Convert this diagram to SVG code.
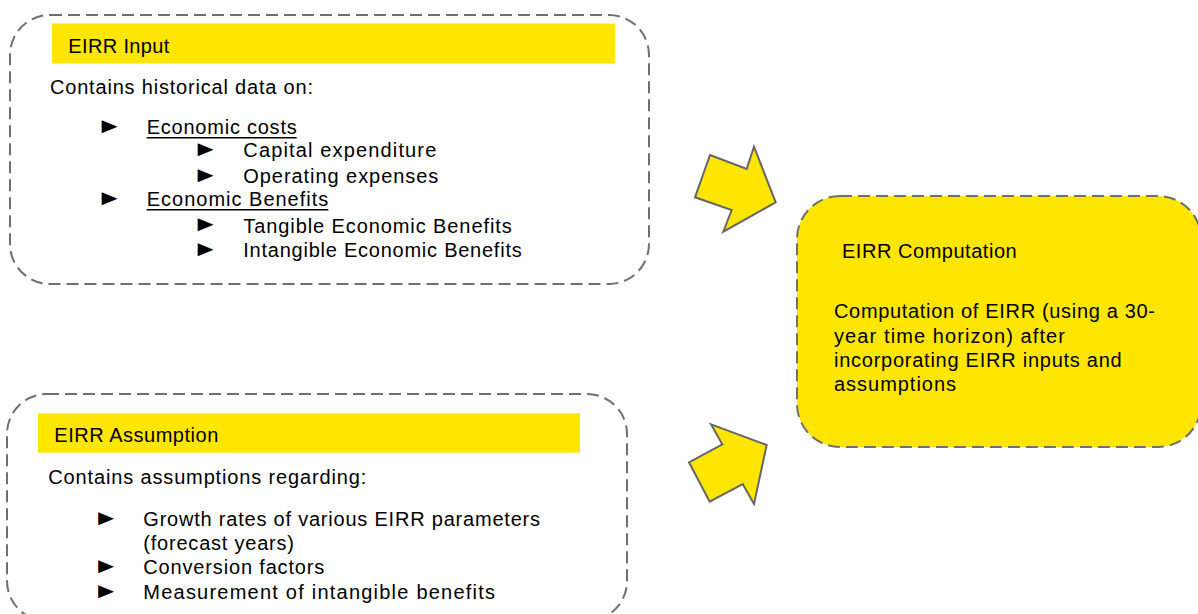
<svg xmlns="http://www.w3.org/2000/svg" width="1198" height="614" viewBox="0 0 1198 614">
<style>
.frame{fill:none;stroke:#6f6f6f;stroke-width:2;stroke-dasharray:12 6}
.frameY{fill:#FFE600;stroke:#6f6f6f;stroke-width:2;stroke-dasharray:12 6}
.hdr{fill:#FFE600}
.t{font-family:"Liberation Sans",Arial,sans-serif;font-size:20px;fill:#000}
.ul{stroke:#000;stroke-width:1.5}
.b{font-family:"Liberation Sans",Arial,sans-serif;font-size:22px;fill:#000}
.arrow{fill:#FFE600;stroke:#666;stroke-width:2;stroke-linejoin:miter}
</style>
<rect width="1198" height="614" fill="#fff"/>
<g id="eirr-input">
<rect class="frame" x="10" y="15" width="639" height="269" rx="40" ry="40"/>
<rect class="hdr" x="52" y="23.5" width="563" height="40"/>
<text class="t" x="68.3" y="53.3" textLength="101" lengthAdjust="spacing">EIRR Input</text>
<text class="t" x="50" y="94" textLength="263" lengthAdjust="spacing">Contains historical data on:</text>
<text class="b" transform="translate(96.5,132.5) scale(1.2,1)">►</text>
<text class="t" x="146.7" y="134" textLength="150" lengthAdjust="spacing">Economic costs</text>
<line class="ul" x1="146.7" y1="137.8" x2="296.7" y2="137.8"/>
<text class="b" transform="translate(192.5,155.5) scale(1.2,1)">►</text>
<text class="t" x="243.3" y="157.3" textLength="193" lengthAdjust="spacing">Capital expenditure</text>
<text class="b" transform="translate(192.5,181.5) scale(1.2,1)">►</text>
<text class="t" x="243.3" y="183.3" textLength="195" lengthAdjust="spacing">Operating expenses</text>
<text class="b" transform="translate(96.5,204.5) scale(1.2,1)">►</text>
<text class="t" x="146.7" y="206" textLength="181.6" lengthAdjust="spacing">Economic Benefits</text>
<line class="ul" x1="146.7" y1="209.8" x2="328.3" y2="209.8"/>
<text class="b" transform="translate(192.5,231) scale(1.2,1)">►</text>
<text class="t" x="243.3" y="232.7" textLength="268.4" lengthAdjust="spacing">Tangible Economic Benefits</text>
<text class="b" transform="translate(192.5,255.5) scale(1.2,1)">►</text>
<text class="t" x="243.3" y="257.3" textLength="278.4" lengthAdjust="spacing">Intangible Economic Benefits</text>
</g>
<g id="eirr-assumption">
<rect class="frame" x="7" y="394" width="620" height="227" rx="40" ry="40"/>
<rect class="hdr" x="38" y="413.3" width="542" height="39.4"/>
<text class="t" x="54.3" y="441.7" textLength="164" lengthAdjust="spacing">EIRR Assumption</text>
<text class="t" x="48.3" y="484" textLength="318" lengthAdjust="spacing">Contains assumptions regarding:</text>
<text class="b" transform="translate(93,524.5) scale(1.2,1)">►</text>
<text class="t" x="143.3" y="526" textLength="396.7" lengthAdjust="spacing">Growth rates of various EIRR parameters</text>
<text class="t" x="143.3" y="549.5" textLength="150.7" lengthAdjust="spacing">(forecast years)</text>
<text class="b" transform="translate(93,572.5) scale(1.2,1)">►</text>
<text class="t" x="143.3" y="574" textLength="181" lengthAdjust="spacing">Conversion factors</text>
<text class="b" transform="translate(93,597.5) scale(1.2,1)">►</text>
<text class="t" x="143.3" y="599" textLength="351.7" lengthAdjust="spacing">Measurement of intangible  benefits</text>
</g>
<g id="eirr-computation">
<rect class="frameY" x="797" y="196" width="404" height="251" rx="43" ry="43"/>
<text class="t" x="842" y="257.7" textLength="174.7" lengthAdjust="spacing">EIRR Computation</text>
<text class="t" x="834" y="318.3" textLength="321" lengthAdjust="spacing">Computation of EIRR (using a 30-</text>
<text class="t" x="834" y="343.3" textLength="231" lengthAdjust="spacing">year time horizon) after</text>
<text class="t" x="834" y="367.3" textLength="287.7" lengthAdjust="spacing">incorporating EIRR inputs and</text>
<text class="t" x="834" y="391" textLength="122" lengthAdjust="spacing">assumptions</text>
</g>
<g id="connectors">
<polygon class="arrow" points="710,155 746.7,169 754,146.7 775.7,202.3 723.3,231.7 731.7,210 695,197.3"/>
<polygon class="arrow" points="711,424.3 722.3,444.3 689,462.3 709.7,501.7 742.7,484 754,504 766.7,445"/>
</g>
</svg>
